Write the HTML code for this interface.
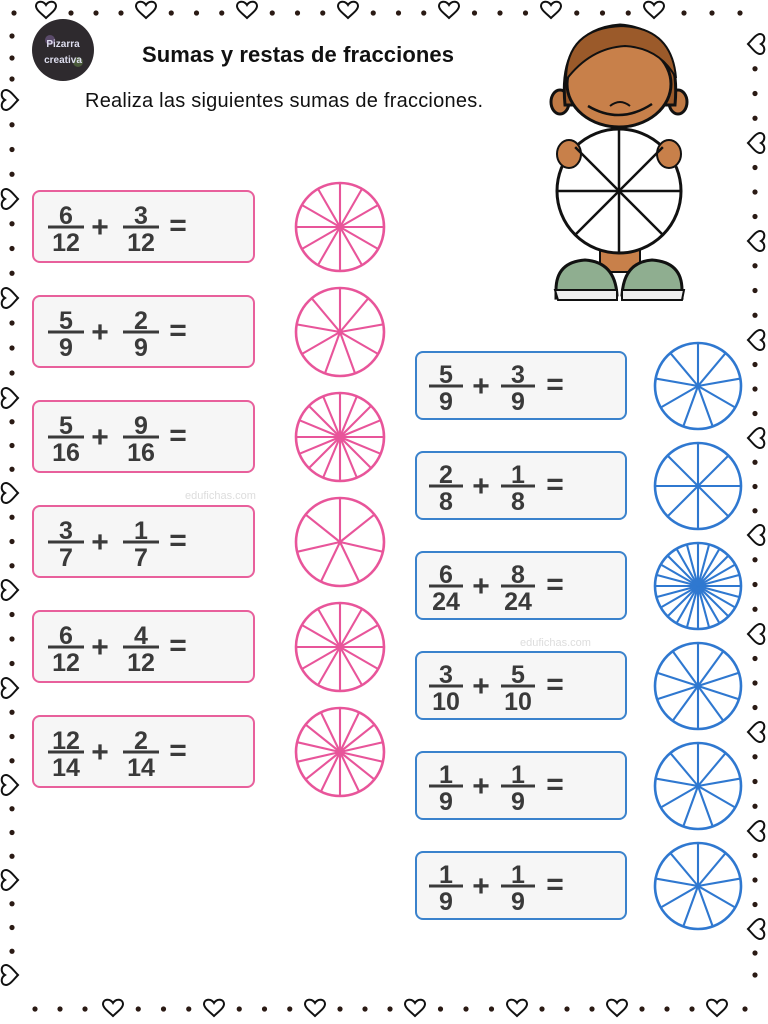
<!DOCTYPE html>
<html><head><meta charset="utf-8"><style>
html,body{margin:0;padding:0;background:#fff;}
svg{display:block}
.f{font-family:"Liberation Sans",sans-serif;font-weight:bold;fill:#3a3a3a;font-size:25px;text-anchor:middle}
.p{font-family:"Liberation Sans",sans-serif;font-weight:bold;fill:#3a3a3a;font-size:30px;text-anchor:middle}
</style></head><body>
<svg id="s" width="768" height="1024" viewBox="0 0 768 1024" xmlns="http://www.w3.org/2000/svg">
<rect width="768" height="1024" fill="#fff"/>
<g id="deco"></g>
<circle cx="63" cy="50" r="31" fill="#2e2a2e"/>
<circle cx="50" cy="40" r="5" fill="#5a4a6a"/><circle cx="78" cy="62" r="5" fill="#4a5a3a"/>
<text x="63" y="47" font-family="Liberation Sans,sans-serif" font-size="10" font-weight="bold" fill="#dde" text-anchor="middle">Pizarra</text>
<text x="63" y="63" font-family="Liberation Sans,sans-serif" font-size="10" font-weight="bold" fill="#dde" text-anchor="middle">creativa</text>
<text x="298" y="62" font-family="Liberation Sans,sans-serif" font-size="22" font-weight="bold" fill="#111" text-anchor="middle" textLength="312">Sumas y restas de fracciones</text>
<text x="284" y="107" font-family="Liberation Sans,sans-serif" font-size="20" fill="#111" text-anchor="middle" textLength="398">Realiza las siguientes sumas de fracciones.</text>
<g stroke="#111" stroke-width="3">
<ellipse cx="560" cy="102" rx="9" ry="12" fill="#c07a45"/>
<ellipse cx="678" cy="102" rx="9" ry="12" fill="#c07a45"/>
<path d="M565 105 Q558 30 620 25 Q682 30 675 105 Z" fill="#9b5a2a"/>
<ellipse cx="619" cy="84" rx="52" ry="43" fill="#c8804a"/>
<path d="M566 80 Q566 28 622 26 Q672 28 676 78 Q660 48 625 46 Q590 48 566 80Z" fill="#9b5a2a" stroke-width="2"/>
<path d="M588 106 Q620 125 652 104" fill="none" stroke-width="2.5"/>
<path d="M610 106 Q620 98 630 106" fill="none" stroke-width="2"/>
<path d="M600 250 L600 272 L640 272 L640 250Z" fill="#c8804a" stroke-width="2"/>
<path d="M556 290 Q556 262 585 260 Q615 262 617 295 L556 298Z" fill="#8fae90"/>
<path d="M622 295 Q624 262 652 260 Q682 262 682 290 L682 298Z" fill="#8fae90"/>
<path d="M555 290 L617 290 L617 300 L558 300Z" fill="#eee" stroke-width="2"/>
<path d="M622 290 L684 290 L682 300 L622 300Z" fill="#eee" stroke-width="2"/>
<circle cx="619" cy="191" r="62" fill="#fff"/>
<ellipse cx="569" cy="154" rx="12" ry="14" fill="#c8804a" stroke-width="2"/>
<ellipse cx="669" cy="154" rx="12" ry="14" fill="#c8804a" stroke-width="2"/>
</g>
<g id="wheel" stroke="#111" stroke-width="2.5"></g>
<g id="boxes"></g>
<g id="txt">
<g transform="translate(0,227)"><text class="f" x="66" y="-3">6</text><text class="f" x="66" y="24">12</text><text class="p" x="100" y="10">+</text><text class="f" x="141" y="-3">3</text><text class="f" x="141" y="24">12</text><text class="p" x="178" y="8">=</text></g>
<g transform="translate(0,332)"><text class="f" x="66" y="-3">5</text><text class="f" x="66" y="24">9</text><text class="p" x="100" y="10">+</text><text class="f" x="141" y="-3">2</text><text class="f" x="141" y="24">9</text><text class="p" x="178" y="8">=</text></g>
<g transform="translate(0,437)"><text class="f" x="66" y="-3">5</text><text class="f" x="66" y="24">16</text><text class="p" x="100" y="10">+</text><text class="f" x="141" y="-3">9</text><text class="f" x="141" y="24">16</text><text class="p" x="178" y="8">=</text></g>
<g transform="translate(0,542)"><text class="f" x="66" y="-3">3</text><text class="f" x="66" y="24">7</text><text class="p" x="100" y="10">+</text><text class="f" x="141" y="-3">1</text><text class="f" x="141" y="24">7</text><text class="p" x="178" y="8">=</text></g>
<g transform="translate(0,647)"><text class="f" x="66" y="-3">6</text><text class="f" x="66" y="24">12</text><text class="p" x="100" y="10">+</text><text class="f" x="141" y="-3">4</text><text class="f" x="141" y="24">12</text><text class="p" x="178" y="8">=</text></g>
<g transform="translate(0,752)"><text class="f" x="66" y="-3">12</text><text class="f" x="66" y="24">14</text><text class="p" x="100" y="10">+</text><text class="f" x="141" y="-3">2</text><text class="f" x="141" y="24">14</text><text class="p" x="178" y="8">=</text></g>
<g transform="translate(0,386)"><text class="f" x="446" y="-3">5</text><text class="f" x="446" y="24">9</text><text class="p" x="481" y="10">+</text><text class="f" x="518" y="-3">3</text><text class="f" x="518" y="24">9</text><text class="p" x="555" y="8">=</text></g>
<g transform="translate(0,486)"><text class="f" x="446" y="-3">2</text><text class="f" x="446" y="24">8</text><text class="p" x="481" y="10">+</text><text class="f" x="518" y="-3">1</text><text class="f" x="518" y="24">8</text><text class="p" x="555" y="8">=</text></g>
<g transform="translate(0,586)"><text class="f" x="446" y="-3">6</text><text class="f" x="446" y="24">24</text><text class="p" x="481" y="10">+</text><text class="f" x="518" y="-3">8</text><text class="f" x="518" y="24">24</text><text class="p" x="555" y="8">=</text></g>
<g transform="translate(0,686)"><text class="f" x="446" y="-3">3</text><text class="f" x="446" y="24">10</text><text class="p" x="481" y="10">+</text><text class="f" x="518" y="-3">5</text><text class="f" x="518" y="24">10</text><text class="p" x="555" y="8">=</text></g>
<g transform="translate(0,786)"><text class="f" x="446" y="-3">1</text><text class="f" x="446" y="24">9</text><text class="p" x="481" y="10">+</text><text class="f" x="518" y="-3">1</text><text class="f" x="518" y="24">9</text><text class="p" x="555" y="8">=</text></g>
<g transform="translate(0,886)"><text class="f" x="446" y="-3">1</text><text class="f" x="446" y="24">9</text><text class="p" x="481" y="10">+</text><text class="f" x="518" y="-3">1</text><text class="f" x="518" y="24">9</text><text class="p" x="555" y="8">=</text></g>
</g>
<text x="185" y="499" font-family="Liberation Sans,sans-serif" font-size="11" fill="#ddd">edufichas.com</text>
<text x="520" y="646" font-family="Liberation Sans,sans-serif" font-size="11" fill="#ddd">edufichas.com</text>
</svg>
<script>
var NS="http://www.w3.org/2000/svg";
function el(p,t,a){var e=document.createElementNS(NS,t);for(var k in a)e.setAttribute(k,a[k]);p.appendChild(e);return e;}
var d=document.getElementById("deco");
function heart(x,y,rot){var g=el(d,"g",{transform:"translate("+x+","+y+") rotate("+rot+")"});
el(g,"path",{d:"M0 8 C-4 4 -10 0 -10 -4 C-10 -9 -3 -10 0 -5 C3 -10 10 -9 10 -4 C10 0 4 4 0 8Z",fill:"#fff",stroke:"#111","stroke-width":"2"});}
function dot(x,y){el(d,"circle",{cx:x,cy:y,r:2.6,fill:"#2a1a14"});}
var th=[46,146,247,348,449,551,654];
th.forEach(function(x,i){heart(x,10,0);if(i<th.length-1){var n=th[i+1];for(var k=1;k<=3;k++)dot(x+(n-x)*k/4,13);}});
dot(14,13);dot(684,13);dot(712,13);dot(740,13);
var bh=[113,214,315,415,517,617,717];
bh.forEach(function(x,i){heart(x,1008,0);if(i<bh.length-1){var n=bh[i+1];for(var k=1;k<=3;k++)dot(x+(n-x)*k/4,1009);}});
dot(35,1009);dot(60,1009);dot(85,1009);dot(745,1009);
var lh=[100,199,298,398,493,590,688,785,880,975];
dot(12,36);dot(12,58);dot(12,79);
lh.forEach(function(y,i){heart(10,y,-90);if(i<lh.length-1){var n=lh[i+1];for(var k=1;k<=3;k++)dot(12,y+(n-y)*k/4);}});
var rh=[44,143,241,340,438,535,634,732,831,929];
rh.forEach(function(y,i){heart(756,y,90);if(i<rh.length-1){var n=rh[i+1];for(var k=1;k<=3;k++)dot(755,y+(n-y)*k/4);}});
dot(755,953);dot(755,975);
var b=document.getElementById("boxes");
function wheel(g,cx,cy,r,n,col,sw){el(g,"circle",{cx:cx,cy:cy,r:r,fill:"#fff",stroke:col,"stroke-width":sw});
for(var i=0;i<n;i++){var a=-Math.PI/2+2*Math.PI*i/n;el(g,"line",{x1:cx,y1:cy,x2:cx+r*Math.cos(a),y2:cy+r*Math.sin(a),stroke:col,"stroke-width":sw-0.5});}}
var pk=[[227,12],[332,9],[437,16],[542,7],[647,12],[752,14]];
pk.forEach(function(p){el(b,"rect",{x:33,y:p[0]-36,width:221,height:71,rx:7,fill:"#f6f6f6",stroke:"#e8609c","stroke-width":2});
wheel(b,340,p[0],44,p[1],"#e8559a",2.6);el(b,"line",{x1:48,y1:p[0],x2:84,y2:p[0],stroke:"#3a3a3a","stroke-width":3});el(b,"line",{x1:123,y1:p[0],x2:159,y2:p[0],stroke:"#3a3a3a","stroke-width":3});});
var bl=[[386,9],[486,8],[586,24],[686,10],[786,9],[886,9]];
bl.forEach(function(p){el(b,"rect",{x:416,y:p[0]-34,width:210,height:67,rx:7,fill:"#f6f6f6",stroke:"#3a82cc","stroke-width":2});
wheel(b,698,p[0],43,p[1],"#2f78d0",2.6);el(b,"line",{x1:429,y1:p[0],x2:463,y2:p[0],stroke:"#3a3a3a","stroke-width":3});el(b,"line",{x1:501,y1:p[0],x2:535,y2:p[0],stroke:"#3a3a3a","stroke-width":3});});
var w=document.getElementById("wheel");
for(var i=0;i<8;i++){var a=-Math.PI/2+Math.PI*i/4;el(w,"line",{x1:619,y1:191,x2:619+62*Math.cos(a),y2:191+62*Math.sin(a)});}
</script>
</body></html>
